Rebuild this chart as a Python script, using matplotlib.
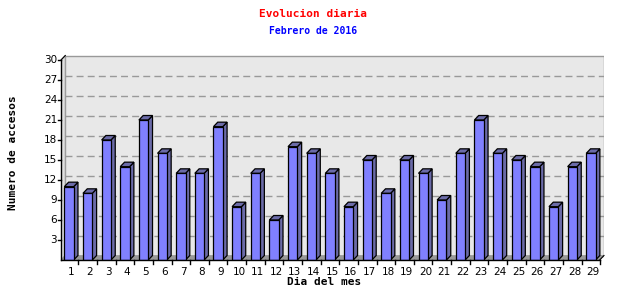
import matplotlib
matplotlib.use("Agg")
import matplotlib.pyplot as plt
from matplotlib.patches import Polygon, Rectangle
import numpy as np

days = list(range(1, 30))
visits = [11, 10, 18, 14, 21, 16, 13, 13, 20, 8, 13, 6, 17, 16, 13, 8, 15, 10,
          15, 13, 9, 16, 21, 16, 15, 14, 8, 14, 16]
yticks = [3, 6, 9, 12, 15, 18, 21, 24, 27, 30]
title = "Evolucion diaria"
subtitle = "Febrero de 2016"
xlabel = "Dia del mes"
ylabel = "Numero de accesos"

W, H = 640, 300
fig = plt.figure(figsize=(W / 100, H / 100), dpi=100)
fig.patch.set_facecolor("white")

# axes placed in pixel geometry
left_px, right_px, top_px, bot_px = 61, 604, 55, 260
ax = fig.add_axes([left_px / W, (H - bot_px) / H, (right_px - left_px) / W, (bot_px - top_px) / H])
ppx = 18.64          # px per category
ppy = 200 / 30.0     # px per unit
x0 = 1 + (61 - 69) / ppx
x1 = x0 + (right_px - left_px) / ppx
y1 = (bot_px - top_px) / ppy
ax.set_xlim(x0, x1)
ax.set_ylim(0, y1)
ax.axis("off")

dx = 4.3 / ppx
dy = 4.5 / ppy
ymax = 30
xr = x1 - dx  # front right edge

# back wall
ax.add_patch(Rectangle((x0 + dx, dy), xr - x0, ymax, facecolor="#e8e8e8",
                       edgecolor="#999999", lw=1.0, zorder=0))
# left wall
ax.add_patch(Polygon([(x0, 0), (x0 + dx, dy), (x0 + dx, ymax + dy), (x0, ymax)],
                     closed=True, facecolor="#e0e0e0", edgecolor="#999999", lw=0.8, zorder=0))
# floor
ax.add_patch(Polygon([(x0, 0), (x0 + dx, dy), (x1, dy), (xr, 0)],
                     closed=True, facecolor="#999999", edgecolor="#999999", lw=0.5, zorder=0.5))
# gridlines on back wall
for t in yticks[:-1]:
    ax.plot([x0 + dx, x1], [t + dy, t + dy], color="#999999", lw=1.0,
            dashes=(5, 3), zorder=0.6)

# bars
bw = 0.5
front = "#8080ff"
side = "#6b6ba8"
for d, v in zip(days, visits):
    xl = d - bw / 2
    xr_b = d + bw / 2
    ax.add_patch(Polygon([(xr_b, 0), (xr_b + dx, dy), (xr_b + dx, v + dy), (xr_b, v)],
                         closed=True, facecolor=side, edgecolor="black", lw=0.9, zorder=2))
    ax.add_patch(Polygon([(xl, v), (xl + dx, v + dy), (xr_b + dx, v + dy), (xr_b, v)],
                         closed=True, facecolor=side, edgecolor="black", lw=0.9, zorder=2))
ax.bar(days, visits, width=bw, color=front, edgecolor="black", lw=0.9, zorder=3)

# front axes lines
ax.plot([x0, x0], [0, ymax], color="black", lw=1.0, zorder=4, clip_on=False)
ax.plot([x0, x0 + dx], [ymax, ymax + dy], color="black", lw=0.8, zorder=4, clip_on=False)
ax.plot([x0, xr], [0, 0], color="black", lw=1.0, zorder=4, clip_on=False)
ax.plot([xr, x1], [0, dy], color="black", lw=0.8, zorder=4, clip_on=False)

# y ticks
tl = 3 / ppx
for t in yticks:
    ax.plot([x0 - tl, x0], [t, t], color="black", lw=1.0, clip_on=False, zorder=4)
    ax.text(x0 - tl - 0.05, t, str(t), ha="right", va="center", fontsize=7.5,
            family="DejaVu Sans", clip_on=False)
# x ticks
tlen = 4 / ppy
for d in days:
    ax.plot([d + 0.5, d + 0.5], [0, -tlen], color="black", lw=1.0, clip_on=False, zorder=4)
    ax.text(d + 0.12, -tlen - 0.4, str(d), ha="center", va="top", fontsize=7.5,
            family="DejaVu Sans", clip_on=False)

# titles and labels
fig.text(313 / W, 1 - 14 / H, title, color="red", ha="center", va="center",
         fontsize=8, family="DejaVu Sans Mono", fontweight="bold")
fig.text(313 / W, 1 - 31.5 / H, subtitle, color="blue", ha="center", va="center",
         fontsize=7, family="DejaVu Sans Mono", fontweight="bold")
fig.text(324 / W, 1 - 282 / H, xlabel, color="black", ha="center", va="center",
         fontsize=8, family="DejaVu Sans Mono", fontweight="bold")
fig.text(13 / W, 1 - 153 / H, ylabel, color="black", ha="center", va="center",
         rotation=90, fontsize=8, family="DejaVu Sans Mono", fontweight="bold")

fig.savefig("out.png", dpi=100)
